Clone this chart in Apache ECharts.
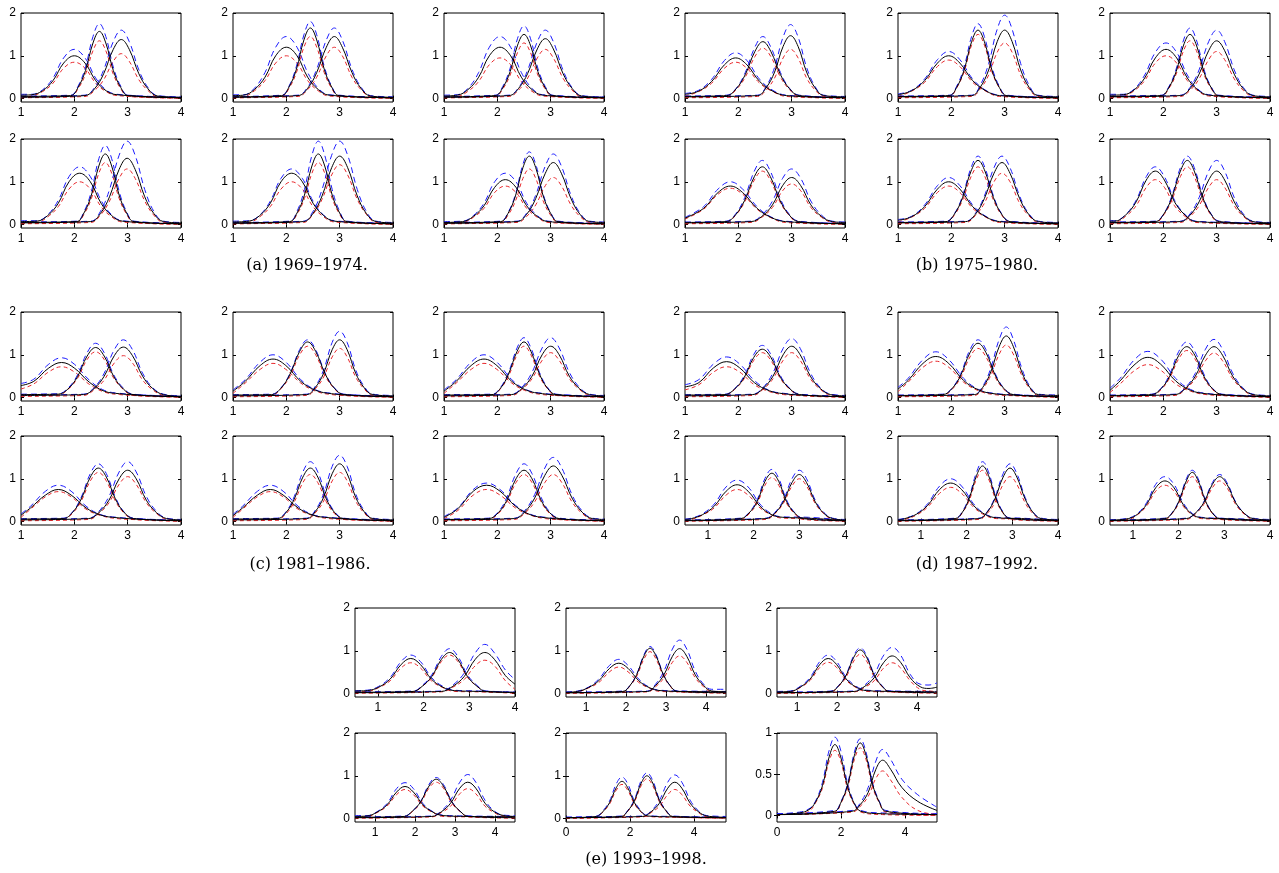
<!DOCTYPE html>
<html>
<head>
<meta charset="utf-8">
<script src="https://cdn.jsdelivr.net/npm/echarts@6/dist/echarts.min.js"></script>
<style>
  html, body { margin: 0; padding: 0; background: #fff; }
  #main { width: 1279px; height: 873px; }
</style>
</head>
<body>
<div id="main"></div>
<script>
// each curve: rows of [x, black (solid), red (dashed), blue (dashed)]
// (a) 1969-1974
const a1 = [
  [[1,.08,.04,.1],[1.2,.09,.06,.1],[1.4,.18,.16,.2],[1.6,.42,.36,.48],[1.8,.83,.71,.95],[2,1,.85,1.15],[2.2,.83,.71,.95],[2.4,.42,.36,.48],[2.6,.18,.16,.2],[2.8,.09,.07,.1],[4,.02,.01,.03]],
  [[1,.05,.03,.06],[1.93,.07,.05,.08],[2.07,.26,.23,.29],[2.21,.66,.57,.74],[2.35,1.3,1.12,1.45],[2.47,1.57,1.35,1.75],[2.59,1.3,1.12,1.45],[2.73,.66,.57,.74],[2.87,.26,.23,.29],[3.01,.07,.05,.08],[4,.02,.01,.03]],
  [[1,.03,.02,.04],[2.2,.07,.05,.08],[2.38,.23,.19,.26],[2.55,.58,.44,.67],[2.73,1.15,.87,1.33],[2.88,1.38,1.05,1.6],[3.03,1.15,.87,1.33],[3.21,.58,.44,.67],[3.38,.23,.19,.26],[3.56,.06,.04,.07],[4,.03,.02,.04]]
];
const a2 = [
  [[1,.07,.04,.09],[1.2,.08,.05,.09],[1.4,.21,.18,.24],[1.6,.5,.42,.61],[1.8,1,.83,1.2],[2,1.2,1,1.45],[2.2,1,.83,1.2],[2.4,.5,.42,.61],[2.6,.21,.18,.24],[2.8,.08,.06,.09],[4,.02,.01,.03]],
  [[1,.04,.02,.05],[1.91,.07,.05,.08],[2.05,.27,.24,.29],[2.19,.69,.61,.76],[2.33,1.37,1.2,1.49],[2.45,1.65,1.45,1.8],[2.57,1.37,1.2,1.49],[2.71,.69,.61,.76],[2.85,.27,.24,.29],[2.99,.07,.05,.08],[4,.02,.01,.03]],
  [[1,.03,.02,.04],[2.22,.07,.05,.08],[2.4,.24,.21,.27],[2.57,.61,.5,.69],[2.75,1.2,1,1.37],[2.9,1.45,1.2,1.65],[3.05,1.2,1,1.37],[3.23,.61,.5,.69],[3.4,.24,.21,.27],[3.58,.06,.04,.07],[4,.03,.02,.04]]
];
const a3 = [
  [[1,.06,.03,.08],[1.25,.08,.05,.09],[1.45,.21,.17,.24],[1.65,.5,.4,.61],[1.85,1,.79,1.2],[2.05,1.2,.95,1.45],[2.25,1,.79,1.2],[2.45,.5,.4,.61],[2.65,.21,.17,.24],[2.85,.08,.06,.09],[4,.02,.01,.03]],
  [[1,.04,.02,.05],[1.96,.07,.05,.08],[2.1,.25,.22,.28],[2.24,.63,.55,.71],[2.38,1.25,1.08,1.41],[2.5,1.5,1.3,1.7],[2.62,1.25,1.08,1.41],[2.76,.63,.55,.71],[2.9,.25,.22,.28],[3.04,.07,.05,.08],[4,.02,.01,.03]],
  [[1,.03,.02,.04],[2.22,.07,.05,.08],[2.4,.24,.2,.26],[2.57,.59,.48,.67],[2.75,1.16,.95,1.33],[2.9,1.4,1.15,1.6],[3.05,1.16,.95,1.33],[3.23,.59,.48,.67],[3.4,.24,.2,.26],[3.58,.06,.04,.07],[4,.03,.02,.04]]
];
const a4 = [
  [[1,.07,.04,.09],[1.3,.08,.05,.09],[1.5,.21,.18,.23],[1.7,.5,.42,.57],[1.9,1,.83,1.12],[2.1,1.2,1,1.35],[2.3,1,.83,1.12],[2.5,.5,.42,.57],[2.7,.21,.18,.23],[2.9,.08,.06,.09],[4,.02,.01,.03]],
  [[1,.05,.03,.06],[2.04,.07,.05,.08],[2.18,.27,.24,.3],[2.32,.69,.61,.78],[2.46,1.37,1.2,1.54],[2.58,1.65,1.45,1.85],[2.7,1.37,1.2,1.54],[2.84,.69,.61,.78],[2.98,.27,.24,.3],[3.12,.07,.05,.08],[4,.02,.01,.03]],
  [[1,.04,.02,.05],[2.31,.07,.05,.08],[2.49,.26,.22,.31],[2.66,.65,.55,.82],[2.84,1.29,1.08,1.62],[2.99,1.55,1.3,1.95],[3.14,1.29,1.08,1.62],[3.32,.65,.55,.82],[3.49,.26,.22,.31],[3.67,.07,.05,.08],[4,.04,.02,.05]]
];
const a5 = [
  [[1,.06,.03,.08],[1.3,.08,.05,.09],[1.5,.21,.18,.22],[1.7,.5,.42,.55],[1.9,1,.83,1.08],[2.1,1.2,1,1.3],[2.3,1,.83,1.08],[2.5,.5,.42,.55],[2.7,.21,.18,.22],[2.9,.08,.06,.09],[4,.02,.01,.03]],
  [[1,.04,.02,.05],[2.06,.07,.05,.08],[2.2,.27,.24,.31],[2.34,.69,.61,.82],[2.48,1.37,1.2,1.62],[2.6,1.65,1.45,1.95],[2.72,1.37,1.2,1.62],[2.86,.69,.61,.82],[3,.27,.24,.31],[3.14,.07,.05,.08],[4,.02,.01,.03]],
  [[1,.03,.02,.04],[2.32,.07,.05,.08],[2.5,.26,.24,.31],[2.67,.67,.59,.82],[2.85,1.33,1.16,1.62],[3,1.6,1.4,1.95],[3.15,1.33,1.16,1.62],[3.33,.67,.59,.82],[3.5,.26,.24,.31],[3.68,.07,.05,.08],[4,.04,.02,.05]]
];
const a6 = [
  [[1,.05,.03,.07],[1.35,.07,.05,.08],[1.55,.19,.17,.21],[1.75,.44,.38,.5],[1.95,.87,.75,1],[2.15,1.05,.9,1.2],[2.35,.87,.75,1],[2.55,.44,.38,.5],[2.75,.19,.17,.21],[2.95,.07,.05,.08],[4,.02,.01,.03]],
  [[1,.04,.02,.05],[2.06,.07,.05,.08],[2.2,.26,.22,.28],[2.34,.67,.55,.71],[2.48,1.33,1.08,1.41],[2.6,1.6,1.3,1.7],[2.72,1.33,1.08,1.41],[2.86,.67,.55,.71],[3,.26,.22,.28],[3.14,.07,.05,.08],[4,.02,.01,.03]],
  [[1,.03,.02,.04],[2.37,.07,.05,.08],[2.55,.24,.19,.27],[2.72,.61,.46,.69],[2.9,1.2,.91,1.37],[3.05,1.45,1.1,1.65],[3.2,1.2,.91,1.37],[3.38,.61,.46,.69],[3.55,.24,.19,.27],[3.73,.07,.05,.08],[4,.05,.03,.06]]
];
// (b) 1975-1980
const b1 = [
  [[1,.1,.06,.12],[1.25,.17,.16,.19],[1.5,.4,.36,.45],[1.74,.79,.71,.89],[1.95,.95,.85,1.07],[2.16,.79,.71,.89],[2.4,.4,.36,.45],[2.65,.17,.16,.19],[2.9,.07,.05,.08],[4,.02,.01,.03]],
  [[1,.05,.03,.06],[1.78,.07,.05,.08],[1.96,.23,.21,.24],[2.13,.56,.5,.61],[2.31,1.1,.98,1.2],[2.46,1.33,1.18,1.45],[2.61,1.1,.98,1.2],[2.79,.56,.5,.61],[2.96,.23,.21,.24],[3.14,.07,.05,.08],[4,.02,.01,.03]],
  [[1,.04,.02,.05],[2.36,.07,.05,.08],[2.52,.25,.2,.28],[2.68,.62,.48,.73],[2.84,1.22,.95,1.44],[2.98,1.47,1.15,1.73],[3.12,1.22,.95,1.44],[3.28,.62,.48,.73],[3.44,.25,.2,.28],[3.6,.07,.05,.08],[4,.04,.02,.05]]
];
const b2 = [
  [[1,.09,.05,.11],[1.25,.18,.17,.19],[1.5,.42,.38,.46],[1.74,.83,.75,.91],[1.95,1,.9,1.1],[2.16,.83,.75,.91],[2.4,.42,.38,.46],[2.65,.18,.17,.19],[2.9,.07,.05,.08],[4,.02,.01,.03]],
  [[1,.05,.03,.06],[1.96,.07,.05,.08],[2.1,.26,.25,.29],[2.24,.67,.63,.74],[2.38,1.33,1.25,1.45],[2.5,1.6,1.5,1.75],[2.62,1.33,1.25,1.45],[2.76,.67,.63,.74],[2.9,.26,.25,.29],[3.04,.07,.05,.08],[4,.02,.01,.03]],
  [[1,.04,.02,.05],[2.38,.07,.05,.08],[2.54,.26,.22,.31],[2.7,.67,.55,.82],[2.86,1.33,1.08,1.62],[3,1.6,1.3,1.95],[3.14,1.33,1.08,1.62],[3.3,.67,.55,.82],[3.46,.26,.22,.31],[3.62,.07,.05,.08],[4,.04,.02,.05]]
];
const b3 = [
  [[1,.08,.05,.1],[1.25,.09,.06,.1],[1.45,.2,.18,.22],[1.65,.48,.42,.55],[1.85,.95,.83,1.08],[2.05,1.15,1,1.3],[2.25,.95,.83,1.08],[2.45,.48,.42,.55],[2.65,.2,.18,.22],[2.85,.08,.06,.09],[4,.02,.01,.03]],
  [[1,.05,.03,.06],[1.96,.07,.05,.08],[2.1,.25,.23,.27],[2.24,.63,.57,.69],[2.38,1.25,1.12,1.37],[2.5,1.5,1.35,1.65],[2.62,1.25,1.12,1.37],[2.76,.63,.57,.69],[2.9,.25,.23,.27],[3.04,.07,.05,.08],[4,.02,.01,.03]],
  [[1,.04,.02,.05],[2.32,.07,.05,.08],[2.5,.23,.19,.26],[2.67,.57,.46,.67],[2.85,1.12,.91,1.33],[3,1.35,1.1,1.6],[3.15,1.12,.91,1.33],[3.33,.57,.46,.67],[3.5,.23,.19,.26],[3.68,.07,.05,.08],[4,.04,.02,.05]]
];
const b4 = [
  [[1,.15,.13,.17],[1.35,.38,.36,.42],[1.62,.75,.71,.83],[1.85,.9,.85,1],[2.08,.75,.71,.83],[2.35,.38,.36,.42],[2.61,.17,.16,.18],[2.88,.07,.05,.08],[4,.02,.01,.03]],
  [[1,.05,.03,.06],[1.77,.07,.05,.08],[1.95,.23,.22,.25],[2.12,.57,.53,.63],[2.3,1.12,1.04,1.25],[2.45,1.35,1.25,1.5],[2.6,1.12,1.04,1.25],[2.78,.57,.53,.63],[2.95,.23,.22,.25],[3.13,.07,.05,.08],[4,.02,.01,.03]],
  [[1,.04,.02,.05],[2.24,.07,.05,.08],[2.44,.19,.17,.22],[2.64,.46,.4,.55],[2.83,.91,.79,1.08],[3,1.1,.95,1.3],[3.17,.91,.79,1.08],[3.36,.46,.4,.55],[3.56,.19,.17,.22],[3.76,.07,.05,.08],[4,.05,.03,.06]]
];
const b5 = [
  [[1,.1,.06,.12],[1.25,.18,.17,.19],[1.5,.42,.38,.46],[1.74,.83,.75,.91],[1.95,1,.9,1.1],[2.16,.83,.75,.91],[2.4,.42,.38,.46],[2.65,.18,.17,.19],[2.9,.07,.05,.08],[4,.02,.01,.03]],
  [[1,.05,.03,.06],[1.9,.07,.05,.08],[2.06,.25,.23,.26],[2.21,.63,.57,.67],[2.37,1.25,1.12,1.33],[2.5,1.5,1.35,1.6],[2.63,1.25,1.12,1.33],[2.79,.63,.57,.67],[2.94,.25,.23,.26],[3.1,.07,.05,.08],[4,.02,.01,.03]],
  [[1,.04,.02,.05],[2.27,.07,.05,.08],[2.45,.24,.21,.26],[2.62,.61,.5,.67],[2.8,1.2,1,1.33],[2.95,1.45,1.2,1.6],[3.1,1.2,1,1.33],[3.28,.61,.5,.67],[3.45,.24,.21,.26],[3.63,.07,.05,.08],[4,.04,.02,.05]]
];
const b6 = [
  [[1,.08,.05,.1],[1.09,.08,.05,.09],[1.29,.22,.19,.23],[1.49,.53,.44,.57],[1.68,1.04,.87,1.12],[1.85,1.25,1.05,1.35],[2.02,1.04,.87,1.12],[2.21,.53,.44,.57],[2.41,.22,.19,.23],[2.61,.07,.05,.08],[4,.02,.01,.03]],
  [[1,.05,.03,.06],[1.85,.07,.05,.08],[2.01,.25,.23,.26],[2.16,.63,.57,.67],[2.32,1.25,1.12,1.33],[2.45,1.5,1.35,1.6],[2.58,1.25,1.12,1.33],[2.74,.63,.57,.67],[2.89,.25,.23,.26],[3.05,.07,.05,.08],[4,.02,.01,.03]],
  [[1,.04,.02,.05],[2.32,.07,.05,.08],[2.5,.22,.19,.25],[2.67,.53,.44,.63],[2.85,1.04,.87,1.25],[3,1.25,1.05,1.5],[3.15,1.04,.87,1.25],[3.33,.53,.44,.63],[3.5,.22,.19,.25],[3.68,.07,.05,.08],[4,.04,.02,.05]]
];
// (c) 1981-1986
const c1 = [
  [[1,.28,.2,.33],[1.24,.38,.32,.43],[1.52,.69,.6,.78],[1.76,.82,.72,.93],[2,.69,.6,.78],[2.28,.36,.31,.41],[2.56,.15,.13,.17],[2.85,.09,.07,.1],[3.3,.05,.04,.06],[4,.02,.01,.03]],
  [[1,.07,.04,.08],[1.7,.08,.06,.09],[1.88,.2,.19,.22],[2.06,.49,.45,.53],[2.24,.97,.89,1.05],[2.4,1.17,1.07,1.27],[2.56,.97,.89,1.05],[2.74,.49,.45,.53],[2.92,.2,.19,.22],[3.1,.07,.05,.08],[4,.02,.01,.03]],
  [[1,.05,.03,.06],[2.17,.07,.05,.08],[2.37,.21,.18,.23],[2.56,.5,.41,.57],[2.75,.98,.81,1.12],[2.92,1.18,.98,1.35],[3.09,.98,.81,1.12],[3.28,.5,.41,.57],[3.47,.21,.18,.23],[3.67,.07,.05,.08],[4,.03,.02,.04]]
];
const c2 = [
  [[1,.15,.1,.18],[1.23,.38,.34,.42],[1.51,.75,.66,.83],[1.75,.9,.8,1],[1.99,.75,.66,.83],[2.27,.38,.34,.42],[2.55,.17,.15,.18],[2.85,.09,.07,.1],[3.3,.05,.04,.06],[4,.02,.01,.03]],
  [[1,.06,.04,.07],[1.72,.07,.05,.08],[1.9,.22,.21,.23],[2.07,.55,.5,.57],[2.25,1.08,1,1.12],[2.4,1.3,1.2,1.35],[2.55,1.08,1,1.12],[2.73,.55,.5,.57],[2.9,.22,.21,.23],[3.08,.07,.05,.08],[4,.02,.01,.03]],
  [[1,.04,.02,.05],[2.38,.07,.05,.08],[2.54,.23,.2,.26],[2.7,.57,.48,.65],[2.86,1.12,.95,1.29],[3,1.35,1.15,1.55],[3.14,1.12,.95,1.29],[3.3,.57,.48,.65],[3.46,.23,.2,.26],[3.62,.07,.05,.08],[4,.04,.02,.05]]
];
const c3 = [
  [[1,.15,.1,.18],[1.23,.38,.34,.42],[1.51,.75,.66,.83],[1.75,.9,.8,1],[1.99,.75,.66,.83],[2.27,.38,.34,.42],[2.55,.17,.15,.18],[2.85,.09,.07,.1],[3.3,.05,.04,.06],[4,.02,.01,.03]],
  [[1,.06,.04,.07],[1.9,.07,.05,.08],[2.06,.22,.21,.24],[2.21,.55,.5,.59],[2.37,1.08,1,1.16],[2.5,1.3,1.2,1.4],[2.63,1.08,1,1.16],[2.79,.55,.5,.59],[2.94,.22,.21,.24],[3.1,.07,.05,.08],[4,.02,.01,.03]],
  [[1,.04,.02,.05],[2.27,.07,.05,.08],[2.46,.21,.19,.24],[2.65,.5,.44,.59],[2.84,1,.87,1.16],[3,1.2,1.05,1.4],[3.16,1,.87,1.16],[3.35,.5,.44,.59],[3.54,.21,.19,.24],[3.73,.07,.05,.08],[4,.04,.02,.05]]
];
const c4 = [
  [[1,.15,.1,.18],[1.18,.32,.29,.36],[1.46,.62,.58,.71],[1.7,.75,.7,.85],[1.94,.62,.58,.71],[2.22,.32,.29,.36],[2.5,.15,.14,.16],[2.8,.09,.07,.1],[3.3,.05,.04,.06],[4,.02,.01,.03]],
  [[1,.06,.04,.07],[1.79,.07,.05,.08],[1.97,.22,.2,.23],[2.13,.53,.48,.57],[2.3,1.04,.95,1.12],[2.45,1.25,1.15,1.35],[2.6,1.04,.95,1.12],[2.77,.53,.48,.57],[2.93,.22,.2,.23],[3.11,.07,.05,.08],[4,.02,.01,.03]],
  [[1,.04,.02,.05],[2.27,.07,.05,.08],[2.46,.21,.19,.24],[2.65,.5,.44,.59],[2.84,1,.87,1.16],[3,1.2,1.05,1.4],[3.16,1,.87,1.16],[3.35,.5,.44,.59],[3.54,.21,.19,.24],[3.73,.07,.05,.08],[4,.04,.02,.05]]
];
const c5 = [
  [[1,.14,.1,.17],[1.18,.32,.29,.36],[1.46,.62,.58,.71],[1.7,.75,.7,.85],[1.94,.62,.58,.71],[2.22,.32,.29,.36],[2.5,.15,.14,.16],[2.8,.09,.07,.1],[3.3,.05,.04,.06],[4,.02,.01,.03]],
  [[1,.06,.04,.07],[1.83,.07,.05,.08],[2,.22,.19,.24],[2.15,.53,.46,.59],[2.31,1.04,.91,1.16],[2.45,1.25,1.1,1.4],[2.59,1.04,.91,1.16],[2.75,.53,.46,.59],[2.9,.22,.19,.24],[3.07,.07,.05,.08],[4,.02,.01,.03]],
  [[1,.04,.02,.05],[2.38,.07,.05,.08],[2.54,.23,.2,.26],[2.7,.57,.48,.65],[2.86,1.12,.95,1.29],[3,1.35,1.15,1.55],[3.14,1.12,.95,1.29],[3.3,.57,.48,.65],[3.46,.23,.2,.26],[3.62,.07,.05,.08],[4,.04,.02,.05]]
];
const c6 = [
  [[1,.1,.07,.12],[1.26,.3,.26,.32],[1.55,.71,.62,.75],[1.8,.85,.75,.9],[2.05,.71,.62,.75],[2.34,.36,.32,.38],[2.62,.16,.15,.17],[2.9,.09,.07,.1],[3.3,.05,.04,.06],[4,.02,.01,.03]],
  [[1,.05,.03,.06],[1.84,.07,.05,.08],[2.02,.21,.19,.23],[2.18,.5,.46,.57],[2.35,1,.91,1.12],[2.5,1.2,1.1,1.35],[2.65,1,.91,1.12],[2.82,.5,.46,.57],[2.98,.21,.19,.23],[3.16,.07,.05,.08],[4,.02,.01,.03]],
  [[1,.04,.02,.05],[2.32,.07,.05,.08],[2.51,.22,.19,.25],[2.7,.55,.46,.63],[2.89,1.08,.91,1.25],[3.05,1.3,1.1,1.5],[3.21,1.08,.91,1.25],[3.4,.55,.46,.63],[3.59,.22,.19,.25],[3.78,.07,.05,.08],[4,.05,.03,.06]]
];
// (d) 1987-1992
const d1 = [
  [[1,.25,.18,.3],[1.26,.35,.3,.42],[1.54,.7,.6,.79],[1.78,.84,.72,.95],[2.02,.7,.6,.79],[2.3,.35,.3,.4],[2.58,.16,.14,.17],[2.85,.09,.07,.1],[3.3,.05,.04,.06],[4,.02,.01,.03]],
  [[1,.06,.04,.07],[1.75,.07,.05,.08],[1.93,.2,.19,.21],[2.11,.47,.44,.51],[2.29,.94,.87,1.01],[2.45,1.13,1.05,1.22],[2.61,.94,.87,1.01],[2.79,.47,.44,.51],[2.97,.2,.19,.21],[3.15,.07,.05,.08],[4,.02,.01,.03]],
  [[1,.04,.02,.05],[2.27,.07,.05,.08],[2.46,.21,.19,.23],[2.65,.5,.44,.58],[2.84,1,.87,1.15],[3,1.2,1.05,1.38],[3.16,1,.87,1.15],[3.35,.5,.44,.58],[3.54,.21,.19,.23],[3.73,.07,.05,.08],[4,.04,.02,.05]]
];
const d2 = [
  [[1,.2,.14,.24],[1.19,.4,.36,.45],[1.47,.8,.71,.89],[1.71,.96,.85,1.07],[1.95,.8,.71,.89],[2.23,.4,.36,.45],[2.51,.18,.16,.19],[2.8,.09,.07,.1],[3.3,.05,.04,.06],[4,.02,.01,.03]],
  [[1,.05,.03,.06],[1.84,.07,.05,.08],[2.02,.22,.2,.23],[2.18,.53,.48,.57],[2.35,1.05,.95,1.12],[2.5,1.27,1.15,1.35],[2.65,1.05,.95,1.12],[2.82,.53,.48,.57],[2.98,.22,.2,.23],[3.16,.07,.05,.08],[4,.02,.01,.03]],
  [[1,.04,.02,.05],[2.43,.07,.05,.08],[2.59,.24,.21,.27],[2.74,.6,.52,.69],[2.9,1.2,1.02,1.37],[3.03,1.44,1.23,1.65],[3.16,1.2,1.02,1.37],[3.32,.6,.52,.69],[3.47,.24,.21,.27],[3.63,.07,.05,.08],[4,.05,.03,.06]]
];
const d3 = [
  [[1,.17,.12,.22],[1.19,.39,.32,.45],[1.47,.78,.64,.9],[1.71,.94,.77,1.08],[1.95,.78,.64,.9],[2.23,.39,.32,.45],[2.51,.17,.15,.19],[2.8,.09,.07,.1],[3.3,.05,.04,.06],[4,.02,.01,.03]],
  [[1,.05,.03,.06],[1.78,.07,.05,.08],[1.96,.21,.19,.22],[2.12,.5,.46,.55],[2.29,.99,.91,1.08],[2.44,1.19,1.1,1.3],[2.59,.99,.91,1.08],[2.76,.5,.46,.55],[2.92,.21,.19,.22],[3.1,.07,.05,.08],[4,.02,.01,.03]],
  [[1,.04,.02,.05],[2.22,.07,.05,.08],[2.41,.21,.19,.23],[2.6,.5,.44,.57],[2.79,.99,.86,1.13],[2.95,1.19,1.04,1.36],[3.11,.99,.86,1.13],[3.3,.5,.44,.57],[3.49,.21,.19,.23],[3.68,.07,.05,.08],[4,.04,.02,.05]]
];
const d4 = [
  [[.5,.05,.03,.06],[.64,.07,.05,.08],[.88,.16,.15,.18],[1.14,.36,.32,.41],[1.4,.71,.62,.81],[1.64,.86,.75,.97],[1.88,.71,.62,.81],[2.14,.36,.32,.41],[2.4,.16,.15,.18],[2.64,.1,.08,.11],[3.2,.08,.07,.1],[4,.02,.01,.03]],
  [[.5,.03,.02,.04],[1.72,.07,.05,.08],[1.9,.2,.18,.21],[2.08,.47,.43,.51],[2.25,.94,.85,1.01],[2.4,1.13,1.03,1.22],[2.55,.94,.85,1.01],[2.72,.47,.43,.51],[2.9,.2,.18,.21],[3.08,.07,.05,.08],[4,.02,.01,.03]],
  [[.5,.02,.01,.03],[2.27,.07,.05,.08],[2.46,.19,.18,.21],[2.65,.46,.42,.5],[2.84,.91,.83,1],[3,1.1,1,1.2],[3.16,.91,.83,1],[3.35,.46,.42,.5],[3.54,.19,.18,.21],[3.73,.07,.05,.08],[4,.04,.02,.05]]
];
const d5 = [
  [[.5,.04,.02,.05],[.65,.07,.05,.08],[.9,.17,.15,.18],[1.15,.38,.34,.42],[1.41,.75,.66,.83],[1.65,.9,.8,1],[1.89,.75,.66,.83],[2.15,.38,.34,.42],[2.4,.17,.15,.18],[2.65,.09,.07,.1],[3.2,.07,.06,.08],[4,.02,.01,.03]],
  [[.5,.03,.02,.04],[1.75,.07,.05,.08],[1.91,.22,.21,.24],[2.06,.55,.5,.59],[2.22,1.08,1,1.16],[2.35,1.3,1.2,1.4],[2.48,1.08,1,1.16],[2.64,.55,.5,.59],[2.79,.22,.21,.24],[2.95,.07,.05,.08],[4,.02,.01,.03]],
  [[.5,.02,.01,.03],[2.27,.07,.05,.08],[2.45,.22,.19,.23],[2.62,.53,.44,.57],[2.8,1.04,.87,1.12],[2.95,1.25,1.05,1.35],[3.1,1.04,.87,1.12],[3.28,.53,.44,.57],[3.45,.22,.19,.23],[3.63,.07,.05,.08],[4,.04,.02,.05]]
];
const d6 = [
  [[.5,.03,.02,.04],[.9,.07,.05,.08],[1.1,.17,.16,.19],[1.3,.4,.36,.44],[1.5,.79,.71,.87],[1.7,.95,.85,1.05],[1.9,.79,.71,.87],[2.1,.4,.36,.44],[2.3,.17,.16,.19],[2.5,.09,.07,.1],[3.2,.06,.05,.07],[4,.02,.01,.03]],
  [[.5,.03,.02,.04],[1.7,.07,.05,.08],[1.86,.2,.19,.21],[2.01,.48,.44,.5],[2.17,.95,.87,1],[2.3,1.15,1.05,1.2],[2.43,.95,.87,1],[2.59,.48,.44,.5],[2.74,.2,.19,.21],[2.9,.07,.05,.08],[4,.02,.01,.03]],
  [[.5,.02,.01,.03],[2.17,.07,.05,.08],[2.36,.19,.17,.19],[2.55,.44,.4,.46],[2.74,.87,.79,.91],[2.9,1.05,.95,1.1],[3.06,.87,.79,.91],[3.25,.44,.4,.46],[3.44,.19,.17,.19],[3.63,.07,.05,.08],[4,.04,.02,.05]]
];
// (e) 1993-1998
const e1 = [
  [[.5,.06,.04,.07],[.77,.07,.05,.08],[1.02,.15,.14,.17],[1.27,.34,.3,.38],[1.51,.68,.6,.75],[1.72,.82,.72,.9],[1.93,.68,.6,.75],[2.17,.34,.3,.38],[2.42,.15,.14,.17],[2.67,.07,.05,.08],[3.2,.05,.04,.06],[4,.02,.01,.03]],
  [[.5,.03,.02,.04],[1.77,.05,.04,.06],[1.97,.17,.17,.19],[2.18,.4,.38,.44],[2.39,.8,.75,.87],[2.57,.96,.9,1.05],[2.75,.8,.75,.87],[2.96,.4,.38,.44],[3.17,.17,.17,.19],[3.37,.05,.04,.06],[4,.03,.02,.04]],
  [[.5,.02,.01,.03],[2.39,.05,.04,.06],[2.64,.17,.15,.2],[2.89,.4,.33,.48],[3.13,.8,.65,.95],[3.34,.96,.78,1.15],[3.55,.8,.65,.95],[3.79,.42,.3,.55],[4,.22,.1,.33]]
];
const e2 = [
  [[.5,.03,.02,.04],[.79,.05,.04,.06],[1.06,.14,.13,.15],[1.32,.3,.26,.34],[1.59,.59,.51,.66],[1.82,.71,.62,.8],[2.05,.59,.51,.66],[2.32,.3,.26,.34],[2.58,.14,.13,.15],[2.85,.07,.05,.08],[3.4,.05,.04,.06],[4.5,.04,.03,.05]],
  [[.5,.02,.01,.03],[1.92,.05,.04,.06],[2.1,.19,.18,.19],[2.27,.45,.41,.46],[2.45,.88,.81,.91],[2.6,1.06,.98,1.1],[2.75,.88,.81,.91],[2.93,.45,.41,.46],[3.1,.19,.18,.19],[3.28,.05,.04,.06],[4.5,.02,.01,.03]],
  [[.5,.02,.01,.03],[2.54,.05,.04,.06],[2.74,.19,.16,.22],[2.95,.44,.37,.53],[3.16,.87,.73,1.04],[3.34,1.05,.88,1.25],[3.52,.87,.73,1.04],[3.73,.44,.37,.53],[3.94,.19,.16,.22],[4.14,.06,.04,.1],[4.5,.04,.02,.1]]
];
const e3 = [
  [[.5,.04,.02,.05],[.83,.05,.04,.06],[1.08,.15,.14,.17],[1.33,.34,.31,.38],[1.57,.68,.61,.75],[1.78,.82,.73,.9],[1.99,.68,.61,.75],[2.23,.34,.31,.38],[2.48,.15,.14,.17],[2.73,.07,.05,.08],[3.4,.05,.04,.06],[4.5,.04,.03,.05]],
  [[.5,.02,.01,.03],[1.85,.05,.04,.06],[2.04,.18,.17,.19],[2.23,.43,.39,.45],[2.42,.85,.76,.89],[2.58,1.02,.92,1.07],[2.74,.85,.76,.89],[2.93,.43,.39,.45],[3.12,.18,.17,.19],[3.31,.05,.04,.06],[4.5,.02,.01,.03]],
  [[.5,.02,.01,.03],[2.43,.05,.04,.06],[2.68,.16,.14,.19],[2.93,.37,.3,.45],[3.17,.73,.6,.9],[3.38,.88,.72,1.08],[3.59,.73,.6,.9],[3.83,.37,.3,.45],[4.08,.16,.1,.22],[4.3,.12,.06,.2],[4.5,.15,.05,.25]]
];
const e4 = [
  [[.5,.05,.03,.07],[.8,.06,.04,.07],[1.05,.15,.14,.16],[1.3,.32,.29,.35],[1.54,.62,.56,.7],[1.75,.75,.68,.84],[1.96,.62,.56,.7],[2.2,.32,.29,.35],[2.45,.15,.14,.16],[2.7,.07,.05,.08],[3.3,.05,.04,.06],[4.5,.04,.03,.05]],
  [[.5,.03,.02,.04],[1.73,.05,.04,.06],[1.93,.17,.16,.17],[2.14,.39,.36,.4],[2.35,.76,.71,.8],[2.53,.92,.85,.96],[2.71,.76,.71,.8],[2.92,.39,.36,.4],[3.13,.17,.16,.17],[3.33,.05,.04,.06],[4.5,.02,.01,.03]],
  [[.5,.02,.01,.03],[2.42,.05,.04,.06],[2.66,.16,.14,.18],[2.89,.36,.29,.43],[3.12,.71,.58,.85],[3.32,.85,.7,1.03],[3.52,.71,.58,.85],[3.75,.36,.29,.43],[3.98,.16,.14,.18],[4.22,.07,.05,.08],[4.5,.05,.03,.07]]
];
const e5 = [
  [[0,.02,.01,.03],[.95,.05,.04,.06],[1.15,.16,.15,.18],[1.36,.37,.34,.41],[1.57,.72,.66,.81],[1.75,.87,.8,.97],[1.93,.72,.66,.81],[2.14,.37,.34,.41],[2.35,.16,.15,.18],[2.55,.06,.05,.07],[3.3,.04,.03,.05],[5,.02,.01,.03]],
  [[0,.02,.01,.03],[1.73,.05,.04,.06],[1.93,.18,.17,.19],[2.14,.42,.39,.45],[2.35,.83,.77,.89],[2.53,1,.93,1.07],[2.71,.83,.77,.89],[2.92,.42,.39,.45],[3.13,.18,.17,.19],[3.33,.05,.04,.06],[5,.02,.01,.03]],
  [[0,.02,.01,.03],[2.4,.05,.04,.06],[2.66,.16,.14,.18],[2.92,.36,.29,.43],[3.18,.71,.56,.85],[3.4,.85,.68,1.02],[3.62,.71,.56,.85],[3.88,.36,.29,.43],[4.14,.16,.14,.18],[4.4,.06,.04,.07],[5,.03,.02,.05]]
];
const e6 = [
  [[0,.01,.01,.02],[.7,.03,.02,.04],[1,.07,.05,.08],[1.2,.16,.15,.17],[1.42,.36,.33,.4],[1.63,.71,.66,.79],[1.81,.86,.79,.95],[1.99,.71,.66,.79],[2.2,.36,.33,.4],[2.42,.14,.13,.15],[2.62,.05,.04,.06],[3.3,.02,.01,.03],[5,.01,0,.02]],
  [[0,.01,.01,.02],[1.8,.05,.04,.06],[2,.16,.15,.17],[2.21,.37,.34,.39],[2.42,.73,.68,.77],[2.6,.88,.82,.93],[2.78,.73,.68,.77],[2.99,.37,.34,.39],[3.2,.16,.15,.17],[3.4,.05,.04,.06],[5,.01,0,.02]],
  [[0,.01,.01,.02],[2.35,.05,.04,.06],[2.6,.13,.11,.15],[2.85,.28,.23,.34],[3.09,.56,.45,.66],[3.3,.67,.54,.8],[3.55,.56,.43,.68],[3.9,.34,.22,.44],[4.4,.17,.06,.25],[5,.06,.01,.1]]
];

// tick labels
const xTicks14 = [1, 2, 3, 4];
const xTicks04 = [0, 2, 4];
const yTicks02 = [0, 1, 2];
const yTicks01 = [0, 0.5, 1];
const captions = ['(a) 1969–1974.', '(b) 1975–1980.', '(c) 1981–1986.', '(d) 1987–1992.', '(e) 1993–1998.'];

// layout (pixels)
const colsAC = [21, 233, 444];
const colsBD = [685, 898, 1110];
const colsE = [355, 566, 777];
const W = 160, H = 89;

const panels = [
  { d: a1, l: colsAC[0], t: 13, x: [1, 4] }, { d: a2, l: colsAC[1], t: 13, x: [1, 4] }, { d: a3, l: colsAC[2], t: 13, x: [1, 4] },
  { d: a4, l: colsAC[0], t: 139, x: [1, 4] }, { d: a5, l: colsAC[1], t: 139, x: [1, 4] }, { d: a6, l: colsAC[2], t: 139, x: [1, 4] },
  { d: b1, l: colsBD[0], t: 13, x: [1, 4] }, { d: b2, l: colsBD[1], t: 13, x: [1, 4] }, { d: b3, l: colsBD[2], t: 13, x: [1, 4] },
  { d: b4, l: colsBD[0], t: 139, x: [1, 4] }, { d: b5, l: colsBD[1], t: 139, x: [1, 4] }, { d: b6, l: colsBD[2], t: 139, x: [1, 4] },
  { d: c1, l: colsAC[0], t: 312, x: [1, 4] }, { d: c2, l: colsAC[1], t: 312, x: [1, 4] }, { d: c3, l: colsAC[2], t: 312, x: [1, 4] },
  { d: c4, l: colsAC[0], t: 436, x: [1, 4] }, { d: c5, l: colsAC[1], t: 436, x: [1, 4] }, { d: c6, l: colsAC[2], t: 436, x: [1, 4] },
  { d: d1, l: colsBD[0], t: 312, x: [1, 4] }, { d: d2, l: colsBD[1], t: 312, x: [1, 4] }, { d: d3, l: colsBD[2], t: 312, x: [1, 4] },
  { d: d4, l: colsBD[0], t: 436, x: [0.5, 4] }, { d: d5, l: colsBD[1], t: 436, x: [0.5, 4] }, { d: d6, l: colsBD[2], t: 436, x: [0.5, 4] },
  { d: e1, l: colsE[0], t: 608, x: [0.5, 4] }, { d: e2, l: colsE[1], t: 608, x: [0.5, 4.5] }, { d: e3, l: colsE[2], t: 608, x: [0.5, 4.5] },
  { d: e4, l: colsE[0], t: 733, x: [0.5, 4.5] }, { d: e5, l: colsE[1], t: 733, x: [0, 5], xt: xTicks04 },
  { d: e6, l: colsE[2], t: 733, x: [0, 5], xt: xTicks04, y: [-0.08, 1], yt: yTicks01 }
];

const chart = echarts.init(document.getElementById('main'), null, { renderer: 'canvas' });
const font = "'Liberation Sans', Arial, sans-serif";
const tickStyle = { inside: true, length: 3, lineStyle: { color: '#000', width: 1 } };

const grid = [], xAxis = [], yAxis = [], series = [];
panels.forEach((p, i) => {
  const xt = p.xt || xTicks14;
  const yr = p.y || [-0.08, 2];
  const yt = p.yt || yTicks02;
  grid.push({ left: p.l, top: p.t, width: W, height: H, show: true, borderColor: '#000', borderWidth: 1 });
  xAxis.push({
    gridIndex: i, type: 'value', position: 'bottom', min: p.x[0], max: p.x[1],
    axisLine: { show: false }, splitLine: { show: false },
    axisTick: Object.assign({ customValues: xt }, tickStyle),
    axisLabel: { customValues: xt, color: '#000', fontSize: 12, fontFamily: font, margin: 5 }
  });
  xAxis.push({
    gridIndex: i, type: 'value', position: 'top', min: p.x[0], max: p.x[1],
    axisLine: { show: false }, splitLine: { show: false },
    axisTick: Object.assign({ customValues: xt }, tickStyle), axisLabel: { show: false }
  });
  yAxis.push({
    gridIndex: i, type: 'value', position: 'left', min: yr[0], max: yr[1],
    axisLine: { show: false }, splitLine: { show: false },
    axisTick: Object.assign({ customValues: yt }, tickStyle),
    axisLabel: { customValues: yt, color: '#000', fontSize: 12, fontFamily: font, margin: 5 }
  });
  yAxis.push({
    gridIndex: i, type: 'value', position: 'right', min: yr[0], max: yr[1],
    axisLine: { show: false }, splitLine: { show: false },
    axisTick: Object.assign({ customValues: yt }, tickStyle), axisLabel: { show: false }
  });
  p.d.forEach(c => {
    const base = { type: 'line', xAxisIndex: 2 * i, yAxisIndex: 2 * i, smooth: 0.4, symbol: 'none', silent: true };
    series.push(Object.assign({}, base, { data: c.map(q => [q[0], q[2]]), z: 2, lineStyle: { color: '#e8262a', width: 1, type: [4, 3] } }));
    series.push(Object.assign({}, base, { data: c.map(q => [q[0], q[3]]), z: 2, lineStyle: { color: '#1a1aff', width: 1, type: [6, 4] } }));
    series.push(Object.assign({}, base, { data: c.map(q => [q[0], q[1]]), z: 3, lineStyle: { color: '#000', width: 1 } }));
  });
});

const capPos = [[307, 266], [977, 266], [310, 565], [977, 565], [646, 860]];
const graphic = captions.map((t, i) => ({
  type: 'text', x: capPos[i][0], y: capPos[i][1],
  style: { text: t, fill: '#000', font: "16px 'DejaVu Serif', serif", textAlign: 'center', textVerticalAlign: 'middle' }
}));

chart.setOption({ animation: false, grid, xAxis, yAxis, series, graphic });
window.addEventListener('resize', chart.resize);
</script>
</body>
</html>
